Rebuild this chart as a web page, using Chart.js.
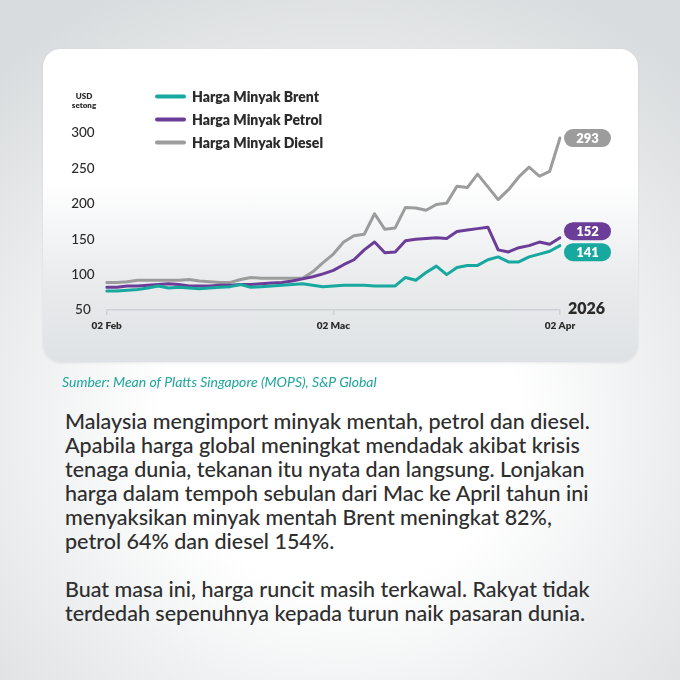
<!DOCTYPE html>
<html>
<head>
<meta charset="utf-8">
<script src="https://cdn.jsdelivr.net/npm/chart.js@4.4.1/dist/chart.umd.min.js"></script>
<style>
    html, body {
        margin: 0;
        padding: 0;
    }

    body {
        width: 680px;
        height: 680px;
        overflow: hidden;
        position: relative;
        background: radial-gradient(ellipse 75% 70% at 50% 62%, #ffffff 35%, #e9ebec 70%, #d9dcde 100%);
        font-family: Lato, "Open Sans", sans-serif;
    }

    .card {
        position: absolute;
        left: 43px;
        top: 49px;
        width: 595px;
        height: 313px;
        border-radius: 18px;
        background: linear-gradient(to bottom, #ffffff 0%, #ffffff 42%, #eaecee 72%, #dfe2e4 100%);
        box-shadow: 0 1px 3px rgba(0, 0, 0, 0.08);
    }

    .chart-box {
        position: absolute;
        left: 0;
        top: 0;
        width: 680px;
        height: 380px;
    }

    .source {
        position: absolute;
        left: 62px;
        top: 374px;
        font-size: 14px;
        line-height: 16px;
        font-style: italic;
        font-weight: 400;
        color: #1ea59c;
        white-space: nowrap;
    }

    .text {
        position: absolute;
        left: 65px;
        top: 409px;
        font-size: 21.5px;
        font-weight: 500;
        line-height: 24px;
        color: #2e2e2e;
        white-space: nowrap;
    }

    .text p {
        margin: 0;
    }

    .text p + p {
        margin-top: 24px;
    }
</style>
</head>
<body>

<div class="card"></div>
<div class="chart-box"><canvas id="oilChart"></canvas></div>

<div class="source">Sumber: Mean of Platts Singapore (MOPS), S&amp;P Global</div>

<div class="text">
    <p>Malaysia mengimport minyak mentah, petrol dan diesel.<br>
    Apabila harga global meningkat mendadak akibat krisis<br>
    tenaga dunia, tekanan itu nyata dan langsung. Lonjakan<br>
    harga dalam tempoh sebulan dari Mac ke April tahun ini<br>
    menyaksikan minyak mentah Brent meningkat 82%,<br>
    petrol 64% dan diesel 154%.</p>
    <p>Buat masa ini, harga runcit masih terkawal. Rakyat tidak<br>
    terdedah sepenuhnya kepada turun naik pasaran dunia.</p>
</div>

<script>
// ==========================================
// Harga minyak - Brent / Petrol / Diesel
// ==========================================

const days = [
    "02 Feb", "03 Feb", "04 Feb", "05 Feb", "06 Feb", "09 Feb", "10 Feb", "11 Feb",
    "12 Feb", "13 Feb", "16 Feb", "17 Feb", "18 Feb", "19 Feb", "20 Feb", "23 Feb",
    "24 Feb", "25 Feb", "26 Feb", "27 Feb", "28 Feb", "01 Mac", "02 Mac", "03 Mac",
    "04 Mac", "05 Mac", "06 Mac", "09 Mac", "10 Mac", "11 Mac", "12 Mac", "13 Mac",
    "16 Mac", "17 Mac", "18 Mac", "19 Mac", "20 Mac", "23 Mac", "24 Mac", "25 Mac",
    "26 Mac", "27 Mac", "30 Mac", "31 Mac", "02 Apr"
];

const xTicks = ["02 Feb", "02 Mac", "02 Apr"];
const yTicks = [50, 100, 150, 200, 250, 300];

const brent = [
    77, 77, 78, 79, 81, 84, 81, 82, 81, 80,
    81, 82, 83, 86, 82, 83, 84, 85, 86, 87,
    85, 83, 84, 85, 85, 85, 84, 84, 84, 96,
    92, 103, 112, 100, 110, 113, 113, 121, 125, 118,
    118, 125, 129, 133, 141
];

const petrol = [
    82, 82, 84, 84, 85, 86, 87, 86, 84, 84,
    84, 85, 85, 86, 86, 87, 88, 89, 91, 94,
    97, 101, 106, 114, 121, 135, 146, 131, 132, 148,
    150, 151, 152, 151, 161, 163, 165, 167, 135, 132,
    138, 141, 146, 143, 152
];

const diesel = [
    89, 89, 90, 92, 92, 92, 92, 92, 93, 91,
    90, 89, 89, 93, 96, 95, 95, 95, 95, 95,
    104, 117, 129, 146, 155, 157, 186, 164, 166, 195,
    194, 191, 199, 201, 225, 223, 242, 224, 206, 220,
    238, 252, 239, 246, 293
];

const seriesNames = ["Harga Minyak Brent", "Harga Minyak Petrol", "Harga Minyak Diesel"];
const seriesColors = ["#17a89f", "#6b3d98", "#9c9c9c"];

// legend, end badges, unit and year labels
const annotations = {
    id: "annotations",
    afterDraw(chart) {
        const ctx = chart.ctx;

        ctx.save();

        // unit
        ctx.fillStyle = "#2b2b2b";
        ctx.font = "800 8px Lato";
        ctx.textAlign = "center";
        ctx.textBaseline = "middle";
        ctx.fillText("USD", 84, 96);
        ctx.fillText("setong", 84, 105);

        // legend
        ctx.font = "800 14px Lato";
        ctx.textAlign = "left";
        ctx.lineWidth = 4;
        ctx.lineCap = "round";
        chart.data.datasets.forEach((ds, i) => {
            const y = 96.5 + i * 23;
            ctx.strokeStyle = ds.borderColor;
            ctx.beginPath();
            ctx.moveTo(157, y);
            ctx.lineTo(184, y);
            ctx.stroke();
            ctx.fillStyle = "#2b2b2b";
            ctx.fillText(ds.label, 192, y + 0.5);
        });

        // year
        ctx.font = "800 16px Lato";
        ctx.fillText("2026", 568, 309);

        // end badges, pushed apart when they would overlap
        const badges = chart.data.datasets.map((ds, i) => {
            const meta = chart.getDatasetMeta(i);
            const last = meta.data[meta.data.length - 1];
            return { x: last.x, y: last.y, value: ds.data[ds.data.length - 1], color: ds.borderColor };
        }).sort((a, b) => a.y - b.y);

        const gap = 21;
        for (let k = 1; k < badges.length; k++) {
            const prev = badges[k - 1];
            const cur = badges[k];
            if (cur.y - prev.y < gap) {
                const mid = (cur.y + prev.y) / 2;
                prev.y = mid - gap / 2;
                cur.y = mid + gap / 2;
            }
        }

        const w = 47;
        const h = 18;
        badges.forEach(b => {
            const left = b.x + 4;
            const top = b.y - h / 2;
            ctx.fillStyle = b.color;
            ctx.beginPath();
            ctx.roundRect(left, top, w, h, h / 2);
            ctx.fill();
            ctx.fillStyle = "#FFFFFF";
            ctx.font = "800 13px Lato";
            ctx.textAlign = "center";
            ctx.fillText(String(b.value), left + w / 2, b.y + 0.5);
        });

        ctx.restore();
    }
};

const oilChart = new Chart(
    document.getElementById("oilChart"),
    {
        type: "line",

        data: {
            labels: days,
            datasets: [
                { label: seriesNames[0], data: brent, borderColor: seriesColors[0] },
                { label: seriesNames[1], data: petrol, borderColor: seriesColors[1] },
                { label: seriesNames[2], data: diesel, borderColor: seriesColors[2] }
            ]
        },

        options: {
            responsive: true,
            maintainAspectRatio: false,
            animation: false,

            layout: {
                padding: { top: 126, left: 66.7, right: 120, bottom: 40 }
            },

            elements: {
                line: {
                    borderWidth: 3,
                    tension: 0,
                    borderJoinStyle: "round",
                    borderCapStyle: "round",
                    fill: false
                },
                point: {
                    radius: 0
                }
            },

            plugins: {
                legend: { display: false },
                tooltip: { enabled: false }
            },

            scales: {
                x: {
                    type: "category",
                    offset: false,
                    afterFit(scale) {
                        scale.height = 30;
                    },
                    border: {
                        display: true,
                        color: "#cfd2d5",
                        width: 1.5
                    },
                    grid: {
                        drawOnChartArea: false,
                        drawTicks: true,
                        tickLength: 5,
                        lineWidth: 1.5,
                        color: (c) => xTicks.includes(days[c.index]) ? "#cfd2d5" : "transparent"
                    },
                    ticks: {
                        autoSkip: false,
                        maxRotation: 0,
                        padding: 5,
                        color: "#2b2b2b",
                        font: { family: "Lato", size: 10, weight: "800" },
                        callback: (value, index) => xTicks.includes(days[index]) ? days[index] : ""
                    }
                },

                y: {
                    min: 50,
                    max: 310,
                    afterFit(scale) {
                        scale.width = 40;
                    },
                    afterBuildTicks(scale) {
                        scale.ticks = yTicks.map(v => ({ value: v }));
                    },
                    border: { display: false },
                    grid: { display: false, drawTicks: false },
                    ticks: {
                        crossAlign: "center",
                        padding: 12,
                        color: "#2b2b2b",
                        font: { family: "Lato", size: 13.5, weight: "500" }
                    }
                }
            }
        },

        plugins: [annotations]
    }
);
</script>
</body>
</html>
